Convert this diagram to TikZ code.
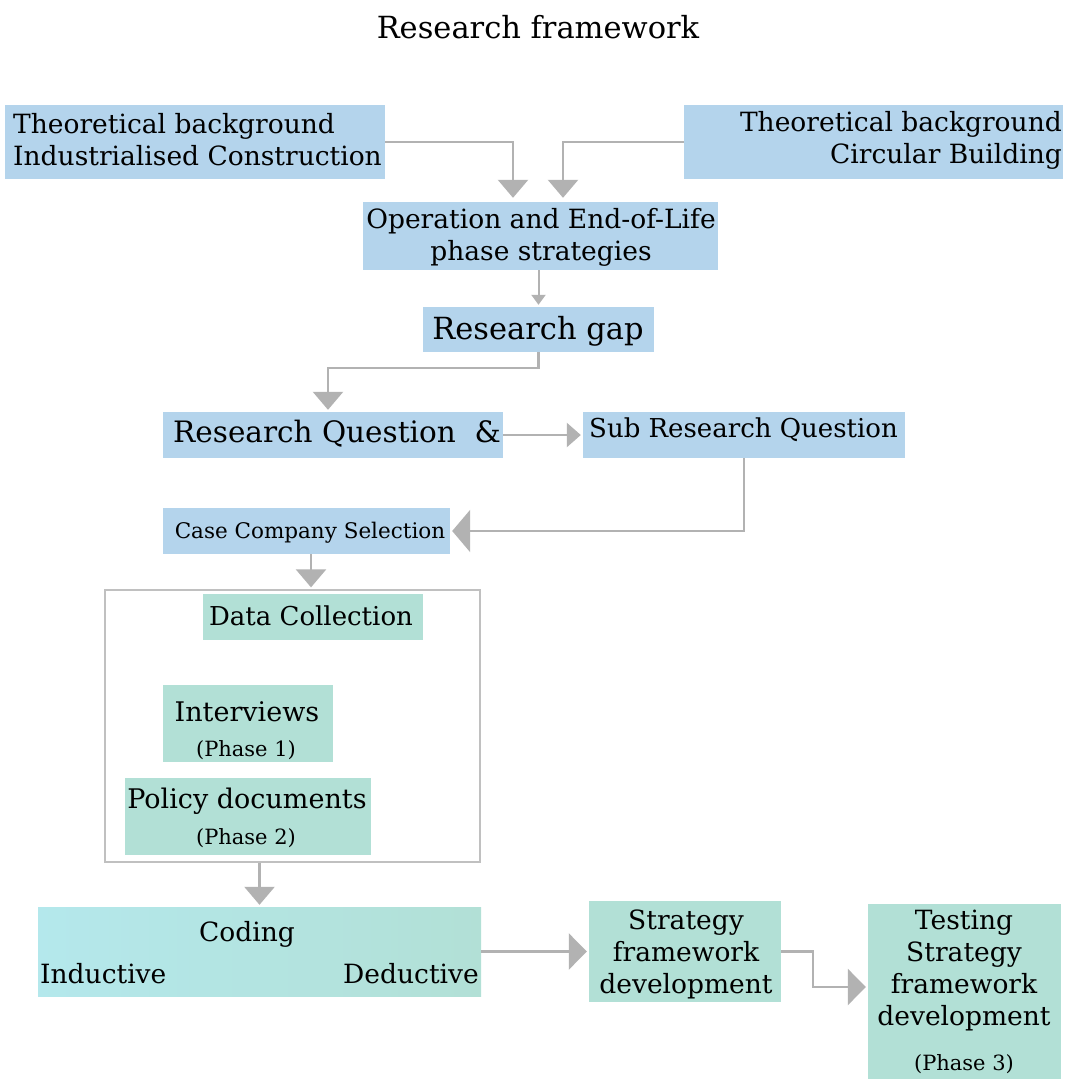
\documentclass[tikz,border=0pt]{standalone}
\usepackage{fontspec}
\setmainfont{DejaVu Serif}
\usetikzlibrary{arrows.meta}
\definecolor{cblue}{RGB}{180,212,236}
\definecolor{cgreen}{RGB}{178,224,214}
\definecolor{ccyan}{RGB}{180,232,236}
\definecolor{carr}{RGB}{178,178,178}
\definecolor{cframe}{RGB}{192,192,192}
\newcommand{\fs}[2]{\fontsize{#1}{#2}\selectfont}
\tikzset{
  bbox/.style={fill=cblue, inner sep=0pt, draw=none},
  gbox/.style={fill=cgreen, inner sep=0pt, draw=none},
  txt/.style={inner sep=0pt, yshift=-2pt, font=\fs{26.5}{32}},
  arr/.style={draw=carr, line width=2.5pt, -{Triangle[width=30pt,length=18pt]}},
  arrs/.style={draw=carr, line width=2pt, -{Triangle[width=14pt,length=10pt]}},
}
\begin{document}
\begin{tikzpicture}[x=1pt,y=-1pt]
\useasboundingbox[fill=white] (0,0) rectangle (1069,1079);
\node[txt, font=\fs{30.5}{36}] (title) at (538,25) {Research framework};
% boxes
\node[bbox, minimum width=380pt, minimum height=74pt] (tbic) at (195,142) {};
\node[txt, anchor=west, align=left] (tbict) at (13,138) {Theoretical background\\Industrialised Construction};
\node[bbox, minimum width=379pt, minimum height=74pt] (tbcb) at (873.5,142) {};
\node[txt, anchor=east, align=right] (tbcbt) at (1062,138) {Theoretical background\\Circular Building};
\node[bbox, minimum width=355pt, minimum height=68pt] (op) at (540.5,236) {};
\node[txt, align=center] (opt) at (541,235) {Operation and End-of-Life\\phase strategies};
\node[bbox, minimum width=231pt, minimum height=45pt] (rg) at (538.5,329.5) {};
\node[txt, font=\fs{30.5}{36}] (rgt) at (538,329) {Research gap};
\node[bbox, minimum width=340pt, minimum height=46pt] (rq) at (333,435) {};
\node[txt, anchor=west, font=\fs{29.5}{36}] (rqt) at (173,432) {Research Question\ \ \&};
\node[bbox, minimum width=322pt, minimum height=46pt] (srq) at (744,435) {};
\node[txt, anchor=west, font=\fs{26}{32}] (srqt) at (589,428) {Sub Research Question};
\node[bbox, minimum width=287pt, minimum height=46pt] (ccs) at (306.5,531) {};
\node[txt, font=\fs{21.5}{26}] (ccst) at (310,531) {Case Company Selection};
% data collection container
\node[draw=cframe, line width=1.3pt, fill=none, minimum width=375pt, minimum height=272pt, inner sep=0pt] (cont) at (292.5,726) {};
\node[gbox, minimum width=220pt, minimum height=46pt] (dc) at (313,617) {};
\node[txt, font=\fs{26}{32}] (dct) at (311,614) {Data Collection};
\node[gbox, minimum width=170pt, minimum height=77pt] (iv) at (248,723.5) {};
\node[txt, font=\fs{27}{32}] (ivt) at (247,710) {Interviews};
\node[txt, font=\fs{21}{24}] (ivp) at (246,748) {(Phase 1)};
\node[gbox, minimum width=246pt, minimum height=77pt] (pd) at (248,816.5) {};
\node[txt, font=\fs{27}{32}] (pdt) at (247,799) {Policy documents};
\node[txt, font=\fs{21}{24}] (pdp) at (246,836) {(Phase 2)};
% coding
\node[inner sep=0pt, left color=ccyan, right color=cgreen, minimum width=443pt, minimum height=89pt] (cod) at (259.5,951.5) {};
\node[txt] (codt) at (247,932) {Coding};
\node[txt, anchor=west] (codi) at (40,972) {Inductive};
\node[txt, anchor=east] (codd) at (479,972) {Deductive};
\node[gbox, minimum width=192pt, minimum height=101pt] (sfd) at (685,951.5) {};
\node[txt, align=center] (sfdt) at (686,952) {Strategy\\framework\\development};
\node[gbox, minimum width=193pt, minimum height=175pt] (tst) at (964.5,991.5) {};
\node[txt, align=center] (tstt) at (964,968) {Testing\\Strategy\\framework\\development};
\node[txt, font=\fs{21}{24}] (tstp) at (964,1062) {(Phase 3)};
% connectors
\draw[arr, shorten >=4pt] (tbic.east) -| ([xshift=-27.5pt]op.north);
\draw[arr, shorten >=4pt] (tbcb.west) -| ([xshift=22.5pt]op.north);
\draw[arrs, shorten >=2pt] ([xshift=-2pt]op.south) -- ([xshift=-2pt]op.south |- rg.north);
\draw[arr, shorten >=2pt] (rg.south) -- ++(0,16) -| ([xshift=-5pt]rq.north);
\draw[draw=carr, line width=2.5pt, -{Triangle[width=24pt,length=14pt]}, shorten >=2pt] (rq.east) -- (srq.west);
\draw[draw=carr, line width=2.5pt, -{Triangle[width=42pt,length=18pt]}, shorten >=2pt] (srq.south) |- (ccs.east);
\draw[arr, shorten >=2pt] ([xshift=4.5pt]ccs.south) -- ([xshift=4.5pt]ccs.south |- cont.north);
\draw[arr, shorten >=2pt] ([xshift=-33pt]cont.south) -- ([xshift=-33pt]cont.south |- cod.north);
\draw[draw=carr, line width=2.5pt, -{Triangle[width=36pt,length=18pt]}, shorten >=2pt] (cod.east) -- (sfd.west);
\draw[draw=carr, line width=2.5pt, -{Triangle[width=36pt,length=18pt]}, shorten >=2pt] (sfd.east) -- ++(32,0) |- ([yshift=4.5pt]tst.west);
\end{tikzpicture}
\end{document}
